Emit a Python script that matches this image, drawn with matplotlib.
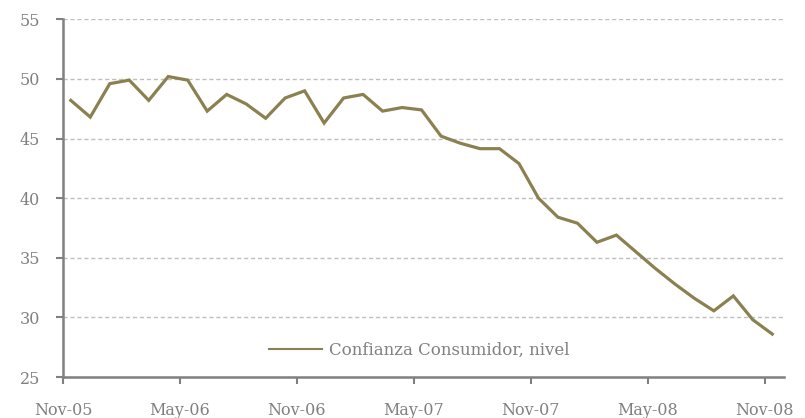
import matplotlib
matplotlib.use("Agg")
import matplotlib.pyplot as plt
import numpy as np

months = ["Nov-05", "Dic-05", "Ene-06", "Feb-06", "Mar-06", "Abr-06", "May-06", "Jun-06", "Jul-06",
          "Ago-06", "Sep-06", "Oct-06", "Nov-06", "Dic-06", "Ene-07", "Feb-07", "Mar-07", "Abr-07",
          "May-07", "Jun-07", "Jul-07", "Ago-07", "Sep-07", "Oct-07", "Nov-07", "Dic-07", "Ene-08",
          "Feb-08", "Mar-08", "Abr-08", "May-08", "Jun-08", "Jul-08", "Ago-08", "Sep-08", "Oct-08",
          "Nov-08"]
confianza = [48.2, 46.8, 49.6, 49.9, 48.2, 50.2, 49.9, 47.3, 48.7, 47.9,
             46.7, 48.4, 49.0, 46.3, 48.4, 48.7, 47.3, 47.6, 47.4, 45.2,
             44.6, 44.15, 44.15, 42.9, 40.0, 38.4, 37.9, 36.3, 36.9, 35.5,
             34.1, 32.8, 31.6, 30.55, 31.8, 29.8, 28.6]
tick_labels = ["Nov-05", "May-06", "Nov-06", "May-07", "Nov-07", "May-08", "Nov-08"]
y_ticks = [25, 30, 35, 40, 45, 50, 55]

line_color = "#8b8150"
grey = "#808080"

plt.rcParams['font.family'] = ['DejaVu Serif']

fig = plt.figure(figsize=(8.05, 4.18), dpi=100)
ax = fig.add_axes([63/805, 1 - 377/418, (784 - 63)/805, (377 - 19.3)/418])

x = np.arange(len(confianza))
ax.plot(x, confianza, color=line_color, lw=2.3, label="Confianza Consumidor, nivel",
        solid_joinstyle="miter", zorder=3)

ax.set_xlim(-0.4, len(confianza) - 0.4)
ax.set_ylim(25, 55)
ax.set_yticks(y_ticks)
ax.set_yticklabels([str(v) for v in y_ticks])
tick_pos = [months.index(m) - 0.4 for m in tick_labels]
ax.set_xticks(tick_pos)
ax.set_xticklabels(tick_labels)

ax.grid(axis="y", color="#bfbfbf", linestyle=(0, (3, 2)), lw=1)
ax.set_axisbelow(True)
for s in ["top", "right"]:
    ax.spines[s].set_visible(False)
for s in ["left", "bottom"]:
    ax.spines[s].set_color(grey)
    ax.spines[s].set_linewidth(1.8)
ax.tick_params(axis="both", colors=grey, labelcolor=grey, labelsize=11.5, length=5, width=1.5,
               direction="out")
ax.tick_params(axis="x", pad=13)
ax.tick_params(axis="y", pad=11.5)

leg = ax.legend(loc="center", bbox_to_anchor=(0.494, 0.0755), frameon=False,
                fontsize=12, handlelength=3.2, handletextpad=0.4)
for t in leg.get_texts():
    t.set_color(grey)
for h in leg.get_lines():
    h.set_linewidth(1.5)

fig.savefig("out.png", dpi=100)
